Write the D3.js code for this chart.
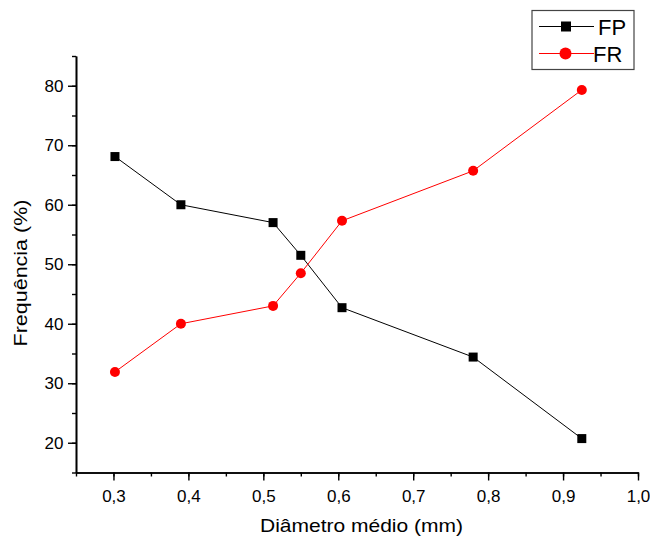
<!DOCTYPE html>
<html><head><meta charset="utf-8">
<script src="https://cdn.jsdelivr.net/npm/d3@7"></script>
<style>body{margin:0;background:#fff}svg{display:block}text{font-family:"Liberation Sans",Arial,sans-serif}</style>
</head><body><svg id="c" width="650" height="537"></svg>
<script>
const diam = [0.302, 0.39, 0.513, 0.55, 0.605, 0.78, 0.925];
const fp = [68.1, 60.0, 57.0, 51.5, 42.7, 34.4, 20.7];
const fr = [31.9, 40.0, 43.0, 48.5, 57.3, 65.7, 79.3];
const xTicks = [0.3, 0.4, 0.5, 0.6, 0.7, 0.8, 0.9, 1.0];
const yTicks = [20, 30, 40, 50, 60, 70, 80];
const seriesNames = ["FP", "FR"];

const svg = d3.select("#c");
const x = d3.scaleLinear().domain([0.25, 1.0]).range([76, 638]);
const y = d3.scaleLinear().domain([15, 85]).range([472.5, 56]);
const fmt = d => d.toFixed(1).replace(".", ",");

const xMinor = d3.range(0.25, 1.001, 0.05).map(v => +v.toFixed(2));
const yMinor = d3.range(15, 86, 5);
svg.append("g").attr("transform", "translate(0,472.5)")
  .call(d3.axisBottom(x).tickValues(xMinor).tickSize(4).tickFormat("").tickSizeOuter(0));
svg.append("g").attr("transform", "translate(0,472.5)")
  .call(d3.axisBottom(x).tickValues(xTicks).tickSize(8).tickPadding(9.5).tickFormat(fmt).tickSizeOuter(0));
svg.append("g").attr("transform", "translate(76,0)")
  .call(d3.axisLeft(y).tickValues(yMinor).tickSize(4).tickFormat("").tickSizeOuter(0));
svg.append("g").attr("transform", "translate(76,0)")
  .call(d3.axisLeft(y).tickValues(yTicks).tickSize(8).tickPadding(4.5).tickFormat(d3.format("d")).tickSizeOuter(0));
svg.selectAll(".domain").attr("stroke", "#000").attr("stroke-width", 1.6);
svg.selectAll(".tick line").attr("stroke", "#000").attr("stroke-width", 1.4);
svg.selectAll(".tick text").attr("font-size", 17).attr("fill", "#000");

// titles
svg.append("text").attr("x", 361.5).attr("y", 532).attr("text-anchor", "middle")
  .attr("font-size", 19).attr("textLength", 203).attr("lengthAdjust", "spacingAndGlyphs")
  .text("Diâmetro médio (mm)");
svg.append("text").attr("transform", "translate(27,273) rotate(-90)").attr("text-anchor", "middle")
  .attr("font-size", 19).attr("textLength", 147).attr("lengthAdjust", "spacingAndGlyphs")
  .text("Frequência (%)");

const line = d3.line().x(d => x(d[0])).y(d => y(d[1]));
const fpData = diam.map((d, i) => [d, fp[i]]);
const frData = diam.map((d, i) => [d, fr[i]]);

svg.append("path").datum(fpData).attr("d", line).attr("fill", "none").attr("stroke", "#000").attr("stroke-width", 1);
svg.append("path").datum(frData).attr("d", line).attr("fill", "none").attr("stroke", "#ff0000").attr("stroke-width", 1);

svg.selectAll(".fp").data(fpData).enter().append("rect")
  .attr("x", d => x(d[0]) - 4.5).attr("y", d => y(d[1]) - 4.5).attr("width", 9).attr("height", 9).attr("fill", "#000");
svg.selectAll(".fr").data(frData).enter().append("circle")
  .attr("cx", d => x(d[0])).attr("cy", d => y(d[1])).attr("r", 5).attr("fill", "#ff0000");

// legend
const lg = svg.append("g");
lg.append("rect").attr("x", 532).attr("y", 10.5).attr("width", 102).attr("height", 59)
  .attr("fill", "#fff").attr("stroke", "#444").attr("stroke-width", 1.2);
[0, 1].forEach(i => {
  const yy = 26.5 + i * 27;
  lg.append("line").attr("x1", 539).attr("x2", 594).attr("y1", yy).attr("y2", yy)
    .attr("stroke", i === 0 ? "#000" : "#ff0000").attr("stroke-width", 1);
  if (i === 0) lg.append("rect").attr("x", 561).attr("y", yy - 5).attr("width", 10).attr("height", 10).attr("fill", "#000");
  else lg.append("circle").attr("cx", 565.5).attr("cy", yy).attr("r", 6).attr("fill", "#ff0000");
  lg.append("text").attr("x", i === 0 ? 598 : 593).attr("y", yy + 8).attr("font-size", 22).text(seriesNames[i]);
});
</script></body></html>
